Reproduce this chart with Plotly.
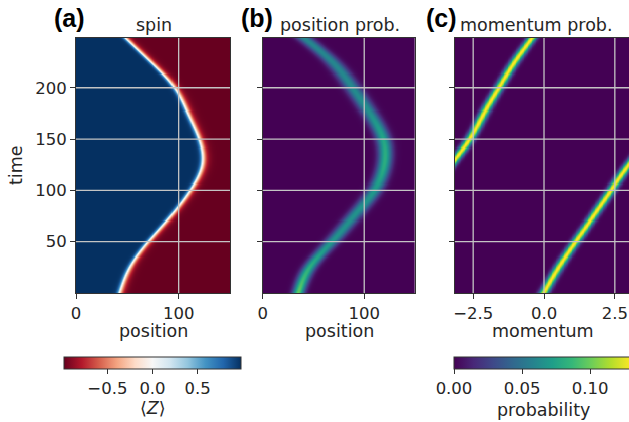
import numpy as np
import plotly.graph_objects as go

# ---------------- data ----------------
TIME_PTS = [0, 25, 50, 75, 100, 125, 150, 175, 200, 225, 248]
# (a) position of the spin domain wall (white line) at each time
SPIN_WALL = [42, 52, 70, 92, 111, 123, 120, 109, 96, 73, 49]
SPIN_LEVEL = 0.98
# (b) centre, peak height and width of the position probability band
POS_CENTER = [35, 46, 68, 90, 110, 120, 119, 106, 89, 69, 42]
POS_PEAK = [0.098, 0.082, 0.068, 0.066, 0.070, 0.080, 0.076, 0.066, 0.062, 0.060, 0.060]
POS_WIDTH = [4.0, 4.6, 5.2, 5.4, 5.2, 4.8, 5.0, 5.4, 5.6, 5.6, 5.6]
# (c) centre of the momentum probability band (wraps at +-pi)
MOM_CENTER = [0.0, 0.52, 1.12, 1.75, 2.37, 3.00, -2.62, -2.12, -1.59, -1.03, -0.44]
MOM_PEAK = 0.13
MOM_WIDTH = 0.12

POS_TICKS = [0, 100]
TIME_TICKS = [50, 100, 150, 200]
MOM_TICKS = [-2.5, 0.0, 2.5]
Z_TICKS = [-0.5, 0.0, 0.5]
P_TICKS = [0.0, 0.05, 0.10]


def spline(xk, yk, xq):
    """natural cubic spline through the read points (smooth curve for rendering)"""
    xk = np.asarray(xk, float)
    yk = np.asarray(yk, float)
    n = len(xk)
    h = np.diff(xk)
    A = np.zeros((n, n))
    b = np.zeros(n)
    A[0, 0] = A[-1, -1] = 1
    for i in range(1, n - 1):
        A[i, i - 1] = h[i - 1]
        A[i, i] = 2 * (h[i - 1] + h[i])
        A[i, i + 1] = h[i]
        b[i] = 6 * ((yk[i + 1] - yk[i]) / h[i] - (yk[i] - yk[i - 1]) / h[i - 1])
    M = np.linalg.solve(A, b)
    idx = np.clip(np.searchsorted(xk, xq) - 1, 0, n - 2)
    x0, x1 = xk[idx], xk[idx + 1]
    hh = x1 - x0
    a = (x1 - xq) / hh
    c = (xq - x0) / hh
    return (a * yk[idx] + c * yk[idx + 1]
            + ((a ** 3 - a) * M[idx] + (c ** 3 - c) * M[idx + 1]) * hh ** 2 / 6)


# ---------------- grids built from the read values ----------------
t = np.arange(0.5, 249, 1.0)
xpos = np.arange(0.25, 150, 0.5)
kmom = np.linspace(-np.pi, np.pi, 401)

wall = spline(TIME_PTS, SPIN_WALL, t)
d = xpos[None, :] - wall[:, None]
Zspin = np.where(d < 0, -np.tanh(d / 2.6), -np.tanh(d / 4.5)) * SPIN_LEVEL

pc = spline(TIME_PTS, POS_CENTER, t)
pp = spline(TIME_PTS, POS_PEAK, t)
pw = spline(TIME_PTS, POS_WIDTH, t)
Zpos = pp[:, None] * np.exp(-((xpos[None, :] - pc[:, None]) ** 2) / (2 * pw[:, None] ** 2))

mc = spline(TIME_PTS, np.unwrap(MOM_CENTER), t)
dk = kmom[None, :] - mc[:, None]
dk = (dk + np.pi) % (2 * np.pi) - np.pi
Zmom = MOM_PEAK * np.exp(-dk ** 2 / (2 * MOM_WIDTH ** 2))

RDBU = ['rgb(103,0,31)', 'rgb(178,24,43)', 'rgb(214,96,77)', 'rgb(244,165,130)',
        'rgb(253,219,199)', 'rgb(247,247,247)', 'rgb(209,229,240)', 'rgb(146,197,222)',
        'rgb(67,147,195)', 'rgb(33,102,172)', 'rgb(5,48,97)']
rdbu_scale = [[i / 10, c] for i, c in enumerate(RDBU)]

W, H = 629, 422
TXT = '#262626'
FONT = 'DejaVu Sans'


def px(x):
    return x / W


def py(y):
    return 1 - y / H


fig = go.Figure()

cb_common = dict(orientation='h', thickness=12, lenmode='pixels', len=177,
                 xanchor='left', yanchor='top', y=py(357), xpad=0, ypad=0,
                 outlinewidth=1, outlinecolor='#333333', ticks='outside', ticklen=5,
                 tickcolor='#333333', tickfont=dict(size=16.5, color=TXT, family=FONT))

fig.add_trace(go.Heatmap(x=xpos, y=t, z=Zspin, colorscale=rdbu_scale,
                         zmin=-SPIN_LEVEL, zmax=SPIN_LEVEL, xaxis='x', yaxis='y',
                         colorbar=dict(x=px(64), tickvals=Z_TICKS, tickformat='.1f', **cb_common)))
fig.add_trace(go.Heatmap(x=xpos, y=t, z=Zpos, colorscale='Viridis', zmin=0, zmax=MOM_PEAK,
                         xaxis='x2', yaxis='y2', showscale=False))
fig.add_trace(go.Heatmap(x=kmom, y=t, z=Zmom, colorscale='Viridis', zmin=0, zmax=MOM_PEAK,
                         xaxis='x3', yaxis='y3',
                         colorbar=dict(x=px(454), tickvals=P_TICKS, tickformat='.2f', **cb_common)))

ax_common = dict(showline=True, mirror=True, linecolor='#333333', linewidth=1,
                 ticks='outside', ticklen=5, tickcolor='#333333', showgrid=False,
                 zeroline=False, tickfont=dict(size=16.5, color=TXT, family=FONT))

ydom = [py(293), py(38)]
trange = [0, 248.5]
fig.update_layout(
    xaxis=dict(domain=[px(76), px(230)], range=[0, 150], tickvals=POS_TICKS, anchor='y', **ax_common),
    yaxis=dict(domain=ydom, range=trange, tickvals=TIME_TICKS, anchor='x', **ax_common),
    xaxis2=dict(domain=[px(262.7), px(415)], range=[0, 150], tickvals=POS_TICKS, anchor='y2', **ax_common),
    yaxis2=dict(domain=ydom, range=trange, tickvals=TIME_TICKS, showticklabels=False, anchor='x2', **ax_common),
    xaxis3=dict(domain=[px(455), 1.0], range=[-np.pi, 3.0], tickvals=MOM_TICKS, tickformat='.1f',
                anchor='y3', **ax_common),
    yaxis3=dict(domain=ydom, range=trange, tickvals=TIME_TICKS, showticklabels=False, anchor='x3', **ax_common),
)

# grid lines drawn on top of the heatmaps
shapes = []
gl = dict(color='#c4c4c4', width=1.3)
for xa, ya, xt in [('x', 'y', POS_TICKS), ('x2', 'y2', POS_TICKS), ('x3', 'y3', MOM_TICKS)]:
    for v in xt:
        if v == 0 and xa != 'x3':
            continue
        shapes.append(dict(type='line', xref=xa, yref=ya + ' domain', x0=v, x1=v, y0=0, y1=1,
                           line=gl, layer='above'))
    for v in TIME_TICKS:
        shapes.append(dict(type='line', xref=xa + ' domain', yref=ya, x0=0, x1=1, y0=v, y1=v,
                           line=gl, layer='above'))

ann = []


def text(s, x, y, size=17.5, bold=False, angle=0, family=FONT):
    ann.append(dict(text=('<b>%s</b>' % s) if bold else s, x=px(x), y=py(y), xref='paper', yref='paper',
                    showarrow=False, xanchor='center', yanchor='middle', textangle=angle,
                    font=dict(size=size, color=('black' if bold else TXT), family=family)))


text('(a)', 69.5, 18, size=25, bold=True, family='Liberation Sans')
text('(b)', 256.5, 18, size=25, bold=True, family='Liberation Sans')
text('(c)', 441.5, 18, size=25, bold=True, family='Liberation Sans')
text('spin', 154, 25)
text('position prob.', 340, 25)
text('momentum prob.', 536, 25)
text('position', 153, 331)
text('position', 339, 331)
text('momentum', 543, 331)
text('time', 16, 165, angle=-90)
text('⟨<i>Z</i>⟩', 152.5, 408)
text('probability', 543, 410)

fig.update_layout(width=W, height=H, margin=dict(l=0, r=0, t=0, b=0, autoexpand=False),
                  paper_bgcolor='white', plot_bgcolor='white', shapes=shapes, annotations=ann,
                  font=dict(family=FONT, color=TXT))

fig.write_html('out.html')
